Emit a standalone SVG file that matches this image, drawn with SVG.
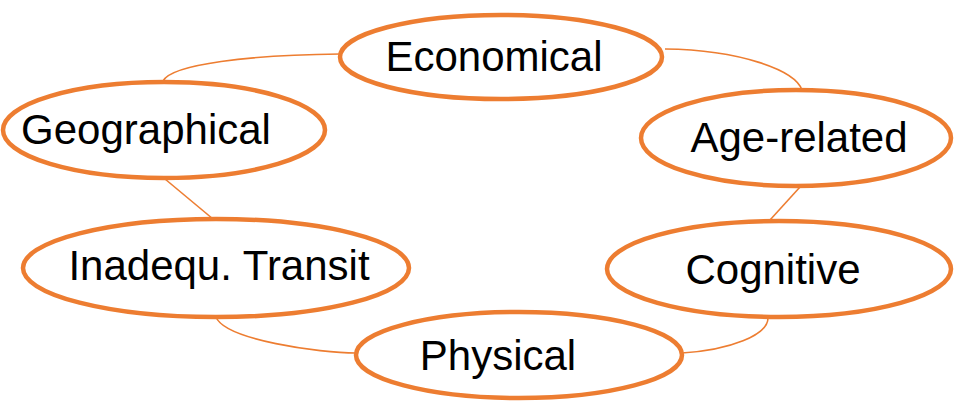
<svg xmlns="http://www.w3.org/2000/svg" width="965" height="404" viewBox="0 0 965 404">
<style>
.node{fill:#fff;stroke:#ED7D31;stroke-width:4.5}
.lbl{font-family:"Liberation Sans",Arial,sans-serif;font-size:42px;fill:#000;text-anchor:middle}
.conn{fill:none;stroke:#ED7D31;stroke-width:1.6}
</style>
<rect width="965" height="404" fill="#fff"/>
<g id="connectors">
<path class="conn" d="M163,81 C172,64 250,55 340,54"/>
<path class="conn" d="M665,49 C740,50 795,70 802,90"/>
<path class="conn" d="M800,187 L770,220"/>
<path class="conn" d="M165,179 L213,219"/>
<path class="conn" d="M216,317 C225,340 320,353 356,353"/>
<path class="conn" d="M682,353 C730,350 768,335 768,318"/>
</g>
<g id="economical"><ellipse class="node" cx="501" cy="57" rx="161" ry="42"/><text class="lbl" x="494" y="71">Economical</text></g>
<g id="age-related"><ellipse class="node" cx="796" cy="138" rx="155" ry="48"/><text class="lbl" x="799" y="152">Age-related</text></g>
<g id="geographical"><ellipse class="node" cx="164" cy="130" rx="161" ry="48"/><text class="lbl" x="146" y="144">Geographical</text></g>
<g id="cognitive"><ellipse class="node" cx="779" cy="269" rx="172" ry="48"/><text class="lbl" x="773" y="284">Cognitive</text></g>
<g id="inadequ-transit"><ellipse class="node" cx="216" cy="268" rx="193" ry="49"/><text class="lbl" x="219" y="280">Inadequ. Transit</text></g>
<g id="physical"><ellipse class="node" cx="519" cy="355" rx="163" ry="43"/><text class="lbl" x="498" y="370">Physical</text></g>
</svg>
